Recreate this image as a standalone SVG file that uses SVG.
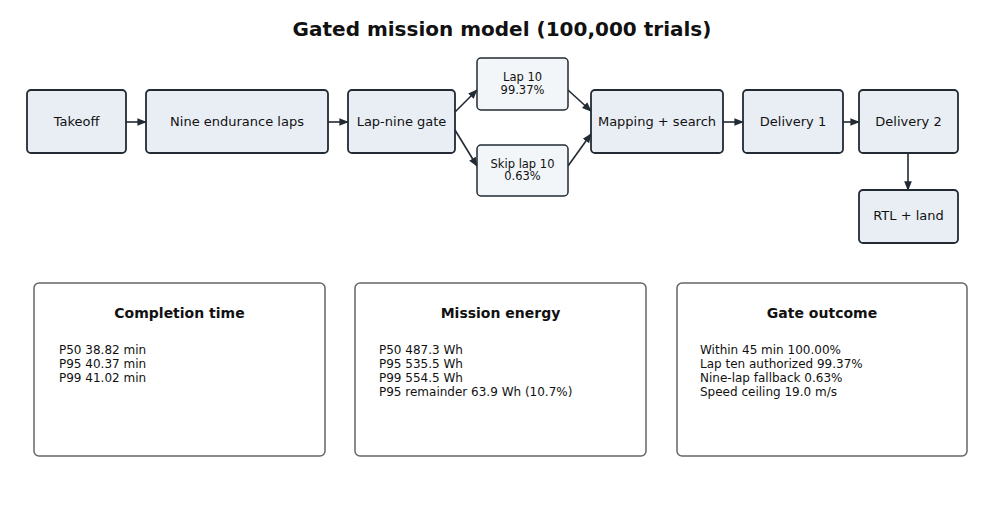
<svg xmlns="http://www.w3.org/2000/svg" width="1005" height="506" viewBox="0 0 1005 506">
<style>
text{font-family:"DejaVu Sans",sans-serif;fill:#111}
.n{fill:#e9eef5;stroke:#222a33;stroke-width:1.8}
.s{fill:#f3f6f9;stroke:#222a33;stroke-width:1.5}
.p{fill:#fff;stroke:#666;stroke-width:1.5}
.t{font-size:13px;text-anchor:middle}
.ts{font-size:11.5px;text-anchor:middle}
.h{font-size:14px;font-weight:bold;text-anchor:middle}
.b{font-size:12px}
.c line{stroke:#222a33;stroke-width:1.6;marker-end:url(#a)}
</style>
<defs><marker id="a" viewBox="0 0 10 10" refX="9" refY="5" markerWidth="6" markerHeight="6" orient="auto"><path d="M0,1L10,5L0,9z" fill="#222a33"/></marker></defs>
<rect width="1005" height="506" fill="#fff"/>
<text x="502" y="36" text-anchor="middle" font-size="20" font-weight="bold">Gated mission model (100,000 trials)</text>
<g class="c">
<line x1="126" y1="122" x2="146" y2="122"/>
<line x1="328" y1="122" x2="348" y2="122"/>
<line x1="455" y1="112" x2="477" y2="90"/>
<line x1="455" y1="130" x2="477" y2="166"/>
<line x1="568" y1="90" x2="591" y2="111"/>
<line x1="568" y1="166" x2="591" y2="134"/>
<line x1="723" y1="122" x2="743" y2="122"/>
<line x1="843" y1="122" x2="859" y2="122"/>
<line x1="908" y1="153" x2="908" y2="190"/>
</g>
<g id="takeoff"><rect class="n" x="27" y="90" width="99" height="63" rx="4"/><text class="t" x="76.5" y="126">Takeoff</text></g>
<g id="laps"><rect class="n" x="146" y="90" width="182" height="63" rx="4"/><text class="t" x="237" y="126">Nine endurance laps</text></g>
<g id="gate"><rect class="n" x="348" y="90" width="107" height="63" rx="4"/><text class="t" x="401.5" y="126">Lap-nine gate</text></g>
<g id="lap10"><rect class="s" x="477" y="58" width="91" height="52" rx="4"/><text class="ts" x="522.5" y="81">Lap 10</text><text class="ts" x="522.5" y="94">99.37%</text></g>
<g id="skip"><rect class="s" x="477" y="145" width="91" height="51" rx="4"/><text class="ts" x="522.5" y="168">Skip lap 10</text><text class="ts" x="522.5" y="180">0.63%</text></g>
<g id="mapping"><rect class="n" x="591" y="90" width="132" height="63" rx="4"/><text class="t" x="657" y="126">Mapping + search</text></g>
<g id="d1"><rect class="n" x="743" y="90" width="100" height="63" rx="4"/><text class="t" x="793" y="126">Delivery 1</text></g>
<g id="d2"><rect class="n" x="859" y="90" width="99" height="63" rx="4"/><text class="t" x="908.5" y="126">Delivery 2</text></g>
<g id="rtl"><rect class="n" x="859" y="190" width="99" height="53" rx="4"/><text class="t" x="908.5" y="220">RTL + land</text></g>
<g id="p1"><rect class="p" x="34" y="283" width="291" height="173" rx="5"/><text class="h" x="179.5" y="318">Completion time</text>
<text class="b" x="59" y="354">P50   38.82 min</text><text class="b" x="59" y="368">P95   40.37 min</text><text class="b" x="59" y="382">P99   41.02 min</text></g>
<g id="p2"><rect class="p" x="355" y="283" width="291" height="173" rx="5"/><text class="h" x="500.5" y="318">Mission energy</text>
<text class="b" x="379" y="354">P50   487.3 Wh</text><text class="b" x="379" y="368">P95   535.5 Wh</text><text class="b" x="379" y="382">P99   554.5 Wh</text><text class="b" x="379" y="396">P95 remainder   63.9 Wh (10.7%)</text></g>
<g id="p3"><rect class="p" x="677" y="283" width="290" height="173" rx="5"/><text class="h" x="822" y="318">Gate outcome</text>
<text class="b" x="700" y="354">Within 45 min   100.00%</text><text class="b" x="700" y="368">Lap ten authorized   99.37%</text><text class="b" x="700" y="382">Nine-lap fallback   0.63%</text><text class="b" x="700" y="396">Speed ceiling   19.0 m/s</text></g>
</svg>
